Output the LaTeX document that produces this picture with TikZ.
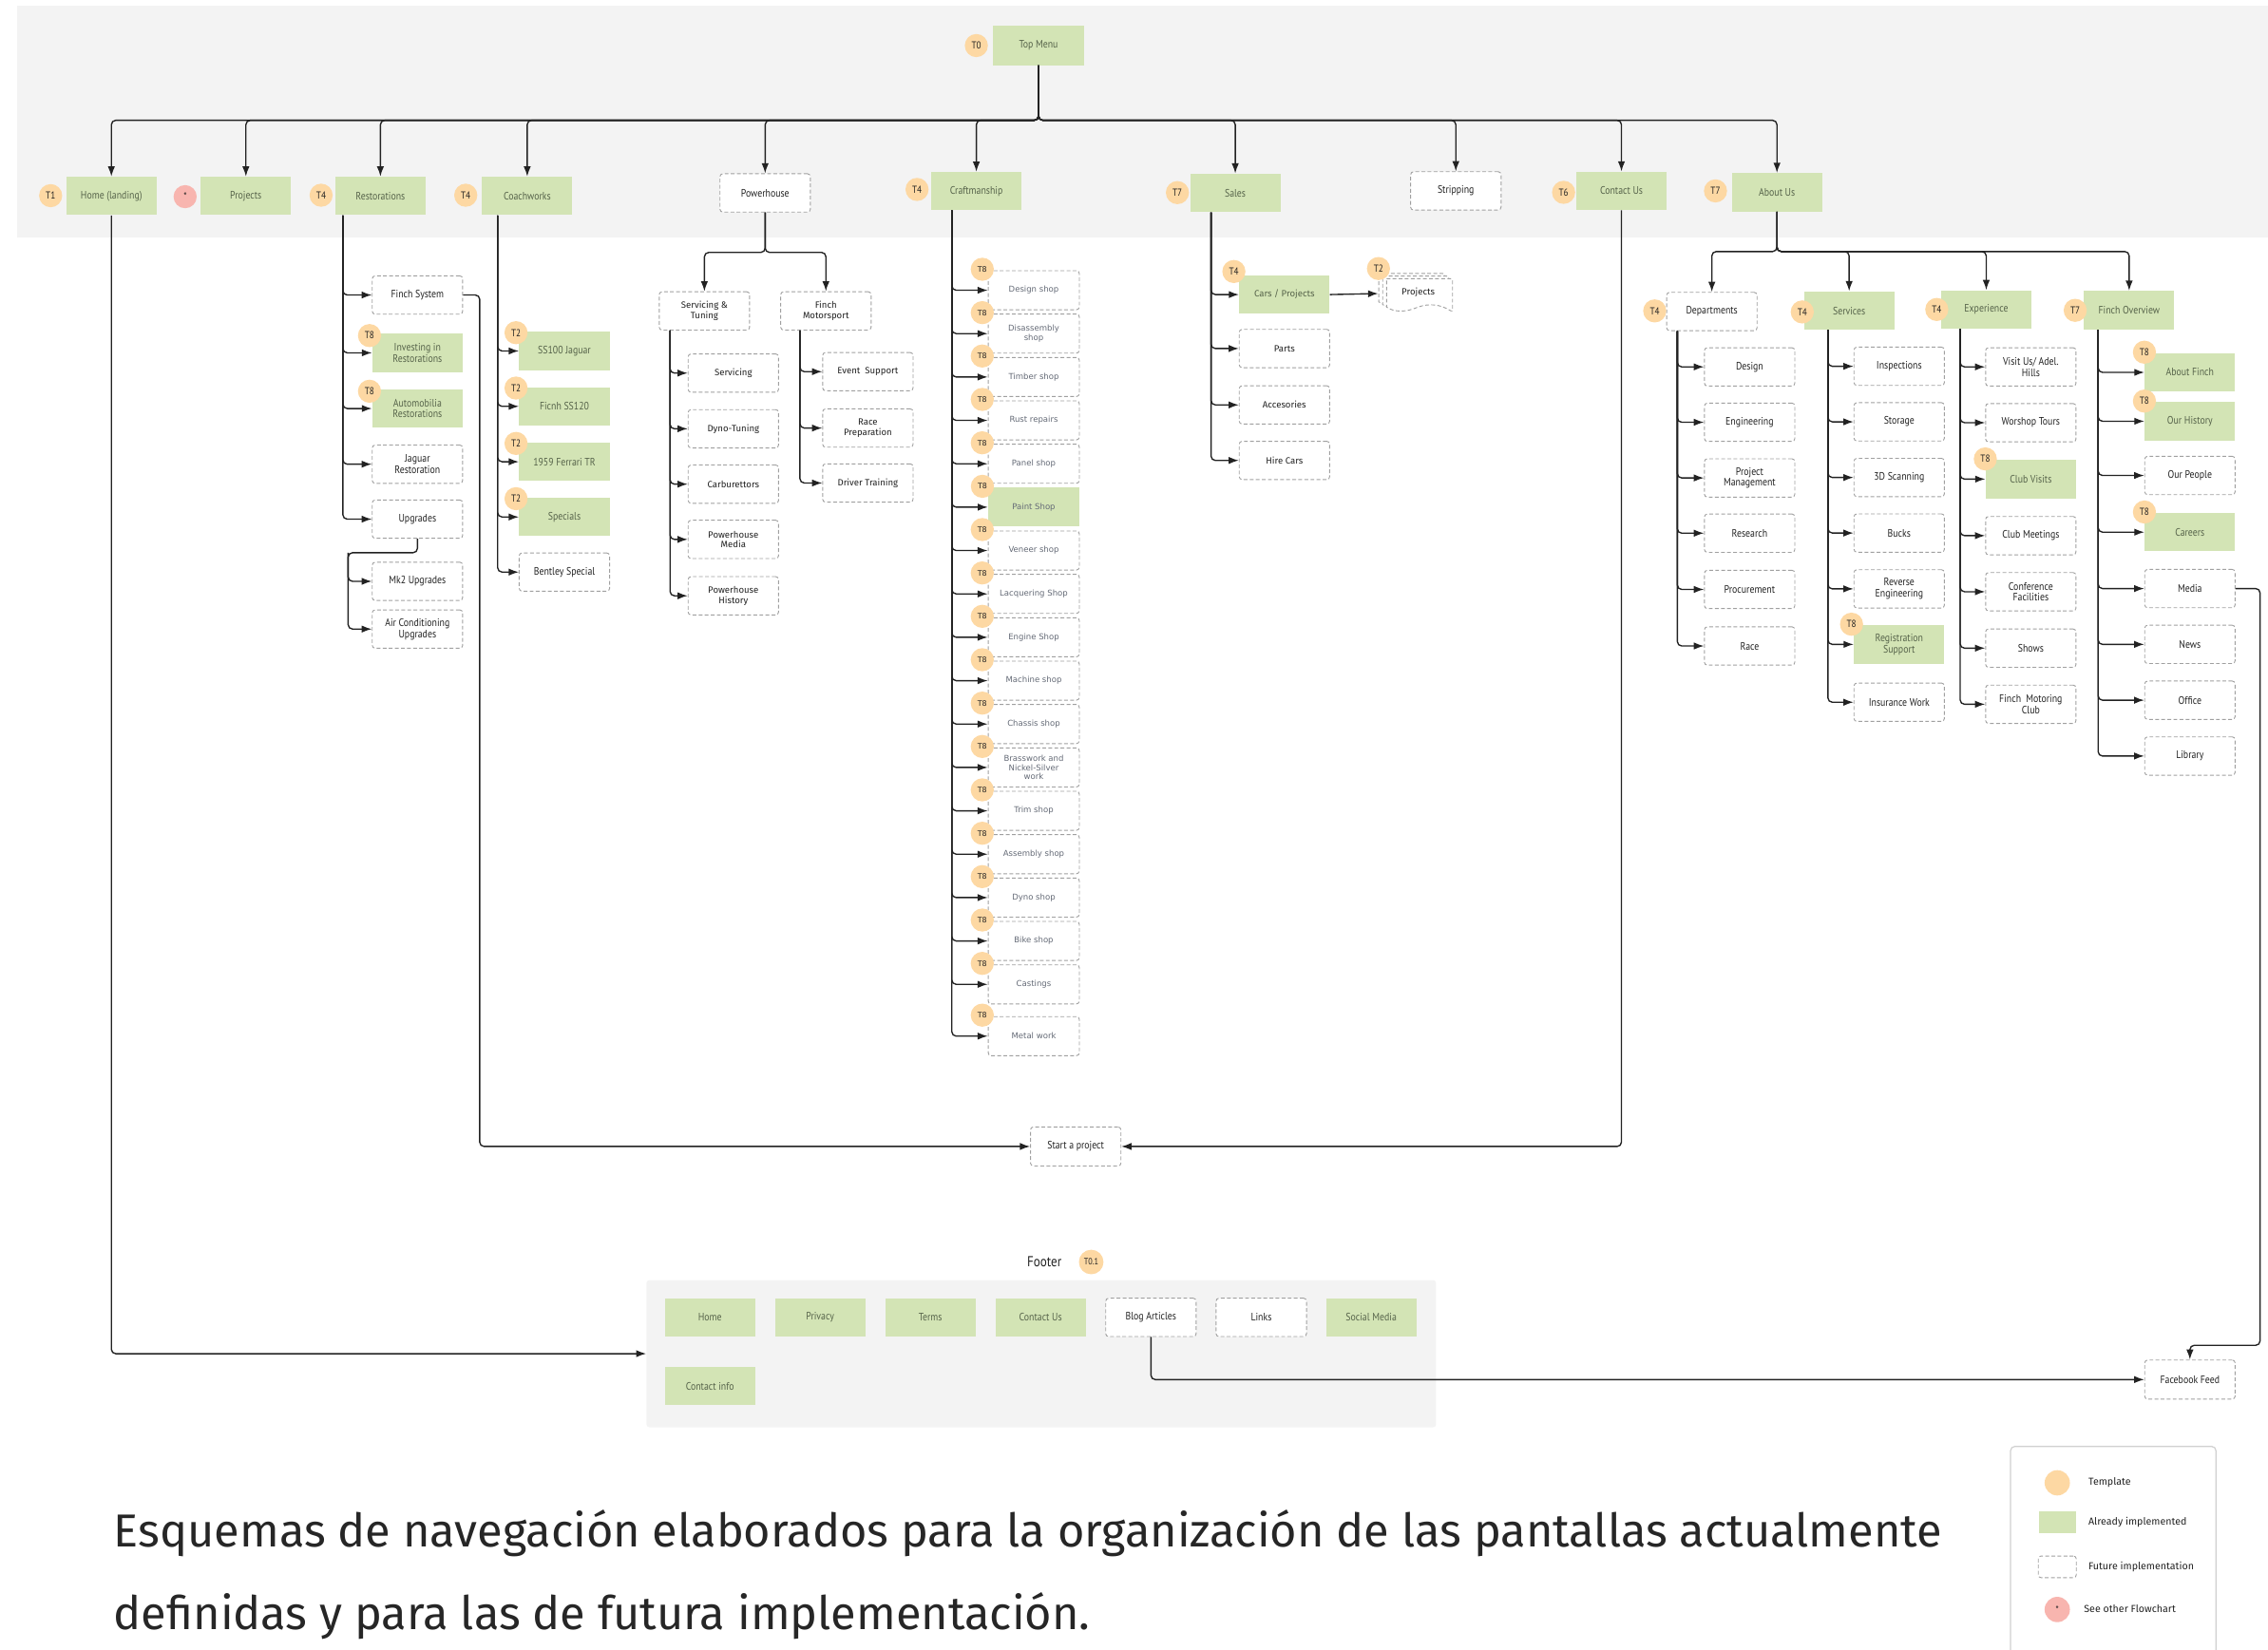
\documentclass[tikz,border=0pt]{standalone}
\usepackage{fontspec}
\setmainfont{PT Sans}
\newfontfamily\condf[FakeStretch=0.86]{PT Sans}
\newfontfamily\widef{DejaVu Sans}
\newfontfamily\firaf{Fira Sans}
\newfontfamily\capf{Fira Sans}
\usetikzlibrary{arrows.meta,calc}
\definecolor{gfill}{HTML}{D3E4B5}
\definecolor{gtext}{HTML}{56634A}
\definecolor{ofill}{HTML}{FDD8A3}
\definecolor{rfill}{HTML}{F8B5AF}
\definecolor{band}{HTML}{F3F3F3}
\definecolor{dgrey}{HTML}{A0A0A0}
\definecolor{ink}{HTML}{222222}
\definecolor{ctext}{HTML}{646A76}
\definecolor{capink}{HTML}{262626}
\definecolor{lgline}{HTML}{D0D0D0}
\begin{document}
\begin{tikzpicture}[x=1pt,y=-1pt,
 base/.style={rectangle,minimum width=62.5pt,minimum height=26.5pt,inner sep=1pt,align=center,font=\condf\fontsize{7.5}{7.8}\selectfont},
 gbox/.style={base,fill=gfill,text=gtext},
 dbox/.style={base,draw=dgrey,dash pattern=on 2.6pt off 1.6pt,line width=0.6pt,rounded corners=2pt,fill=white,text=ink},
 fbox/.style={dbox,font=\firaf\fontsize{6.3}{7}\selectfont},
 fgbox/.style={gbox,font=\firaf\fontsize{6.3}{7}\selectfont},
 cbox/.style={dbox,minimum width=63pt,minimum height=27pt,text=ctext,font=\widef\fontsize{5.6}{6.2}\selectfont},
 cgbox/.style={gbox,minimum width=63pt,minimum height=27pt,text=ctext,font=\widef\fontsize{5.6}{6.2}\selectfont},
 tc/.style={circle,fill=ofill,minimum size=16pt,inner sep=0pt,text=ink,font=\condf\fontsize{7}{7}\selectfont},
 tcw/.style={tc,font=\widef\fontsize{5.2}{6}\selectfont},
 rc/.style={tc,fill=rfill},
 arr/.style={draw=ink,line width=0.9pt,rounded corners=3pt,-{Latex[length=7pt,width=5pt]}},
 lgtext/.style={anchor=west,inner sep=0pt,text=ink,font=\firaf\fontsize{7}{8}\selectfont}
]
\useasboundingbox (0,0) rectangle (1568,1141);
\fill[band] (12,4) rectangle (1568,164);

% ---------- top level ----------
\node[gbox,minimum height=27pt] (top) at (718,31.5) {Top Menu};
\node[tc] (b-top) at (675,31.5) {T0};

\node[gbox] (home) at (77,135.5) {Home (landing)};
\node[tc] (b-home) at (35,135.3) {T1};
\node[gbox] (projects) at (170,135.5) {Projects};
\node[rc] (b-projects) at (128,136) {*};
\node[gbox] (rest) at (263,135.5) {Restorations};
\node[tc] (b-rest) at (222,135) {T4};
\node[gbox] (coach) at (364.5,135.5) {Coachworks};
\node[tc] (b-coach) at (322,135) {T4};
\node[dbox] (power) at (529,133.4) {Powerhouse};
\node[gbox] (craft) at (675,132.2) {Craftmanship};
\node[tc] (b-craft) at (634,131) {T4};
\node[gbox] (sales) at (854,133.4) {Sales};
\node[tc] (b-sales) at (814,133.2) {T7};
\node[dbox] (strip) at (1006.5,132) {Stripping};
\node[gbox] (contact) at (1121,132) {Contact Us};
\node[tc] (b-contact) at (1081,133) {T6};
\node[gbox] (about) at (1228.5,133) {About Us};
\node[tc] (b-about) at (1186,132) {T7};

\foreach \n in {home,projects,rest,coach,power,craft,sales,strip,contact,about}
  \draw[arr] (top.south) -- ++(0,38) -| (\n.north);

% ---------- Restorations ----------
\node[dbox] (finch) at (288.6,204) {Finch System};
\node[gbox] (invest) at (288.6,244) {Investing in\\Restorations};
\node[gbox] (automob) at (288.6,282.5) {Automobilia\\Restorations};
\node[dbox] (jag) at (288.6,321) {Jaguar\\Restoration};
\node[dbox] (upg) at (288.6,359) {Upgrades};
\node[dbox] (mk2) at (288.6,402) {Mk2 Upgrades};
\node[dbox] (acu) at (288.6,435) {Air Conditioning\\Upgrades};
\node[tc] (b-invest) at ([xshift=-1.7pt,yshift=-1.5pt]invest.north west) {T8};
\node[tc] (b-automob) at ([xshift=-1.7pt,yshift=-1.5pt]automob.north west) {T8};
\foreach \n in {finch,invest,automob,jag,upg}
  \draw[arr] ([xshift=5.5pt]rest.south west) |- (\n.west);
\coordinate (uj) at (240.7,382.2);
\draw[arr] (upg.south) |- (uj) |- (mk2.west);
\draw[arr] (uj) |- (acu.west);

% ---------- Coachworks ----------
\node[gbox] (ss100) at (390.2,242.7) {SS100 Jaguar};
\node[gbox] (ficnh) at (390.2,281) {Ficnh SS120};
\node[gbox] (ferrari) at (390.2,319.3) {1959 Ferrari TR};
\node[gbox] (specials) at (390.2,357.5) {Specials};
\node[dbox] (bentley) at (390.2,395.6) {Bentley Special};
\foreach \n in {ss100,ficnh,ferrari,specials}
  \node[tc] (b-\n) at ([xshift=-2pt,yshift=-0.8pt]\n.north west) {T2};
\foreach \n in {ss100,ficnh,ferrari,specials,bentley}
  \draw[arr] ([xshift=11pt]coach.south west) |- (\n.west);

% ---------- Powerhouse ----------
\node[fbox] (st) at (487,215) {Servicing \&\\Tuning};
\node[fbox] (fm) at (571,215) {Finch\\Motorsport};
\draw[arr] (power.south) -- ++(0,27.6) -| (st.north);
\draw[arr] (power.south) -- ++(0,27.6) -| (fm.north);
\node[fbox] (serv) at (507,258) {Servicing};
\node[fbox] (dyno) at (507,296.5) {Dyno-Tuning};
\node[fbox] (carb) at (507,334.8) {Carburettors};
\node[fbox] (phm) at (507,373) {Powerhouse\\Media};
\node[fbox] (phh) at (507,412) {Powerhouse\\History};
\foreach \n in {serv,dyno,carb,phm,phh}
  \draw[arr] ([xshift=7.8pt]st.south west) |- (\n.west);
\node[fbox] (event) at (600,257) {Event\ \ Support};
\node[fbox] (race) at (600,296) {Race\\Preparation};
\node[fbox] (driver) at (600,334) {Driver Training};
\foreach \n in {event,race,driver}
  \draw[arr] ([xshift=13.6pt]fm.south west) |- (\n.west);

% ---------- Craftmanship ----------
\node[cbox] (c1) at (714.7,200.7) {Design shop};
\node[cbox] (c2) at (714.7,230.7) {Disassembly\\shop};
\node[cbox] (c3) at (714.7,260.7) {Timber shop};
\node[cbox] (c4) at (714.7,290.7) {Rust repairs};
\node[cbox] (c5) at (714.7,320.7) {Panel shop};
\node[cgbox] (c6) at (714.7,350.7) {Paint Shop};
\node[cbox] (c7) at (714.7,380.7) {Veneer shop};
\node[cbox] (c8) at (714.7,410.7) {Lacquering Shop};
\node[cbox] (c9) at (714.7,440.7) {Engine Shop};
\node[cbox] (c10) at (714.7,470.7) {Machine shop};
\node[cbox] (c11) at (714.7,500.7) {Chassis shop};
\node[cbox] (c12) at (714.7,530.7) {Brasswork and\\Nickel-Silver\\work};
\node[cbox] (c13) at (714.7,560.7) {Trim shop};
\node[cbox] (c14) at (714.7,590.7) {Assembly shop};
\node[cbox] (c15) at (714.7,620.7) {Dyno shop};
\node[cbox] (c16) at (714.7,650.7) {Bike shop};
\node[cbox] (c17) at (714.7,680.7) {Castings};
\node[cbox] (c18) at (714.7,716.5) {Metal work};
\foreach \n in {c1,c2,c3,c4,c5,c6,c7,c8,c9,c10,c11,c12,c13,c14,c15,c16,c17,c18}{
  \draw[arr] ([xshift=14.5pt]craft.south west) |- (\n.west);
  \node[tcw] (b-\n) at ([xshift=-3.8pt,yshift=0.7pt]\n.north west) {T8};
}

% ---------- Sales ----------
\node[fgbox] (cars) at (888,203.7) {Cars / Projects};
\node[fbox] (parts) at (888,241) {Parts};
\node[fbox] (acc) at (888,280) {Accesories};
\node[fbox] (hire) at (888,318.4) {Hire Cars};
\node[tc] (b-cars) at ([xshift=-3.5pt,yshift=2.5pt]cars.north west) {T4};
\foreach \n in {cars,parts,acc,hire}
  \draw[arr] ([xshift=14.7pt]sales.south west) |- (\n.west);
\node[minimum width=51.2pt,minimum height=26pt,inner sep=0pt] (projdoc) at (978.6,203) {};
\foreach \d in {5.4,2.7,0}{
  \filldraw[fill=white,draw=dgrey,line width=0.6pt,dash pattern=on 2.6pt off 1.6pt,rounded corners=1.5pt]
    (958.6-\d,192.7-\d*0.67) -- (1004.2-\d,192.7-\d*0.67) -- (1004.2-\d,215.7-\d*0.67) [sharp corners]
    .. controls (996-\d,210.5-\d*0.67) and (988-\d,209.5-\d*0.67) .. (980-\d,212.5-\d*0.67)
    .. controls (972-\d,216-\d*0.67) and (964-\d,216-\d*0.67) .. (958.6-\d,212.4-\d*0.67) -- cycle;
}
\node[text=ink,font=\firaf\fontsize{6.3}{7}\selectfont] (projtxt) at (980.5,202) {Projects};
\node[tc] (b-projdoc) at (953,185.7) {T2};
\draw[arr] (cars.east) -- (projdoc.west);

% ---------- Contact / start ----------
\node[dbox,minimum height=27pt] (start) at (743.7,792.8) {Start a project};
\draw[arr] (finch.east) -- ++(11.5,0) |- (start.west);
\draw[arr] (contact.south) |- (start.east);

% ---------- About Us ----------
\node[dbox] (dept) at (1183.5,215.4) {Departments};
\node[gbox] (servs) at (1278.4,214.8) {Services};
\node[gbox] (exper) at (1373.2,214) {Experience};
\node[gbox] (fov) at (1472,214.5) {Finch Overview};
\node[tc] (b-dept) at (1144,215) {T4};
\node[tc] (b-servs) at (1246,215.7) {T4};
\node[tc] (b-exper) at (1339,214) {T4};
\node[tc] (b-fov) at (1434.7,214.6) {T7};
\foreach \n in {dept,servs,exper,fov}
  \draw[arr] (about.south) -- ++(0,27.5) -| (\n.north);

\node[dbox] (design) at (1209.6,253.7) {Design};
\node[dbox] (eng) at (1209.6,292) {Engineering};
\node[dbox] (pm) at (1209.6,330.5) {Project\\Management};
\node[dbox] (research) at (1209.6,368.7) {Research};
\node[dbox] (procure) at (1209.6,407.6) {Procurement};
\node[dbox] (racedep) at (1209.6,446.7) {Race};
\foreach \n in {design,eng,pm,research,procure,racedep}
  \draw[arr] ([xshift=7.7pt]dept.south west) |- (\n.west);

\node[dbox] (insp) at (1313,253.3) {Inspections};
\node[dbox] (storage) at (1313,291.7) {Storage};
\node[dbox] (scan) at (1313,330.2) {3D Scanning};
\node[dbox] (bucks) at (1313,368.6) {Bucks};
\node[dbox] (reveng) at (1313,407.2) {Reverse\\Engineering};
\node[gbox] (regsup) at (1313,445.6) {Registration\\Support};
\node[dbox] (insur) at (1313,485.6) {Insurance Work};
\node[tc] (b-regsup) at ([xshift=-1.5pt,yshift=0.5pt]regsup.north west) {T8};
\foreach \n in {insp,storage,scan,bucks,reveng,regsup,insur}
  \draw[arr] ([xshift=16.8pt]servs.south west) |- (\n.west);

\node[dbox] (visit) at (1404,253.7) {Visit Us/ Adel.\\Hills};
\node[dbox] (wtours) at (1404,292.3) {Worshop Tours};
\node[gbox] (clubv) at (1404,331.3) {Club Visits};
\node[dbox] (clubm) at (1404,370.4) {Club Meetings};
\node[dbox] (conf) at (1404,409.2) {Conference\\Facilities};
\node[dbox] (shows) at (1404,448.2) {Shows};
\node[dbox] (fmc) at (1404,487) {Finch\ \ Motoring\\Club};
\node[tc] (b-clubv) at ([xshift=0pt,yshift=0.5pt]clubv.north west) {T8};
\foreach \n in {visit,wtours,clubv,clubm,conf,shows,fmc}
  \draw[arr] ([xshift=13.4pt]exper.south west) |- (\n.west);

\node[gbox] (aboutf) at (1514,257.5) {About Finch};
\node[gbox] (hist) at (1514,291.3) {Our History};
\node[dbox] (people) at (1514,328.8) {Our People};
\node[gbox] (careers) at (1514,368) {Careers};
\node[dbox] (media) at (1514,407) {Media};
\node[dbox] (news) at (1514,445.6) {News};
\node[dbox] (office) at (1514,484.2) {Office};
\node[dbox] (library) at (1514,522.8) {Library};
\foreach \n in {aboutf,hist,careers}
  \node[tc] (b-\n) at ([xshift=0pt,yshift=0.5pt]\n.north west) {T8};
\foreach \n in {aboutf,hist,people,careers,media,news,office,library}
  \draw[arr] ([xshift=10pt]fov.south west) |- (\n.west);

% ---------- Footer ----------
\node[fill=band,rounded corners=2pt,minimum width=545.8pt,minimum height=101.8pt,inner sep=0pt] (footer) at (719.9,936.1) {};
\node[text=ink,font=\condf\fontsize{10}{10}\selectfont] (footlbl) at (722,872.3) {Footer};
\node[tc,minimum size=17pt,font=\condf\fontsize{6.3}{7}\selectfont] (b-footer) at (754.4,872.7) {T0.1};
\node[gbox] (fhome) at (490.8,911) {Home};
\node[gbox] (fpriv) at (567,911) {Privacy};
\node[gbox] (fterms) at (643.2,911) {Terms};
\node[gbox] (fcontact) at (719.4,911) {Contact Us};
\node[dbox] (fblog) at (795.7,911) {Blog Articles};
\node[dbox] (flinks) at (872,911) {Links};
\node[gbox] (fsocial) at (948,911) {Social Media};
\node[gbox] (finfo) at (490.8,958.5) {Contact info};
\draw[arr] (home.south) |- (footer.west);

\node[dbox,minimum height=27pt] (fb) at (1514,954) {Facebook Feed};
\coordinate (mj) at (1562.5,930.3);
\draw[arr] (media.east) -| (mj) -| (fb.north);
\draw[arr] (fblog.south) |- (fb.west);

% ---------- Legend ----------
\draw[lgline,line width=0.8pt,rounded corners=3pt] (1390,1143) -- (1390,1000.2) -- (1532,1000.2) -- (1532,1143);
\node[tc,minimum size=17.5pt] (lg1) at (1422.3,1025.4) {};
\node[lgtext] (lt1) at (1443.7,1025.4) {Template};
\node[fill=gfill,minimum width=25.4pt,minimum height=14.7pt,inner sep=0pt] (lg2) at (1422.4,1052.7) {};
\node[lgtext] (lt2) at (1443.7,1052.7) {Already implemented};
\node[draw=dgrey,dash pattern=on 2.6pt off 1.6pt,line width=0.6pt,rounded corners=2pt,minimum width=26.3pt,minimum height=15pt,inner sep=0pt] (lg3) at (1422.3,1083.5) {};
\node[lgtext] (lt3) at (1443.7,1083.6) {Future implementation};
\node[rc,minimum size=17.5pt] (lg4) at (1422.3,1113) {*};
\node[lgtext] (lt4) at (1440.6,1112.3) {See other Flowchart};

% ---------- Caption ----------
\node[anchor=base west,inner sep=0pt,text=capink,font=\capf\fontsize{32}{38}\selectfont] (cap1) at (78.5,1069.8) {Esquemas de navegación elaborados para la organización de las pantallas actualmente};
\node[anchor=base west,inner sep=0pt,text=capink,font=\capf\fontsize{32}{38}\selectfont] (cap2) at (78.5,1127) {definidas y para las de futura implementación.};
\end{tikzpicture}
\end{document}
